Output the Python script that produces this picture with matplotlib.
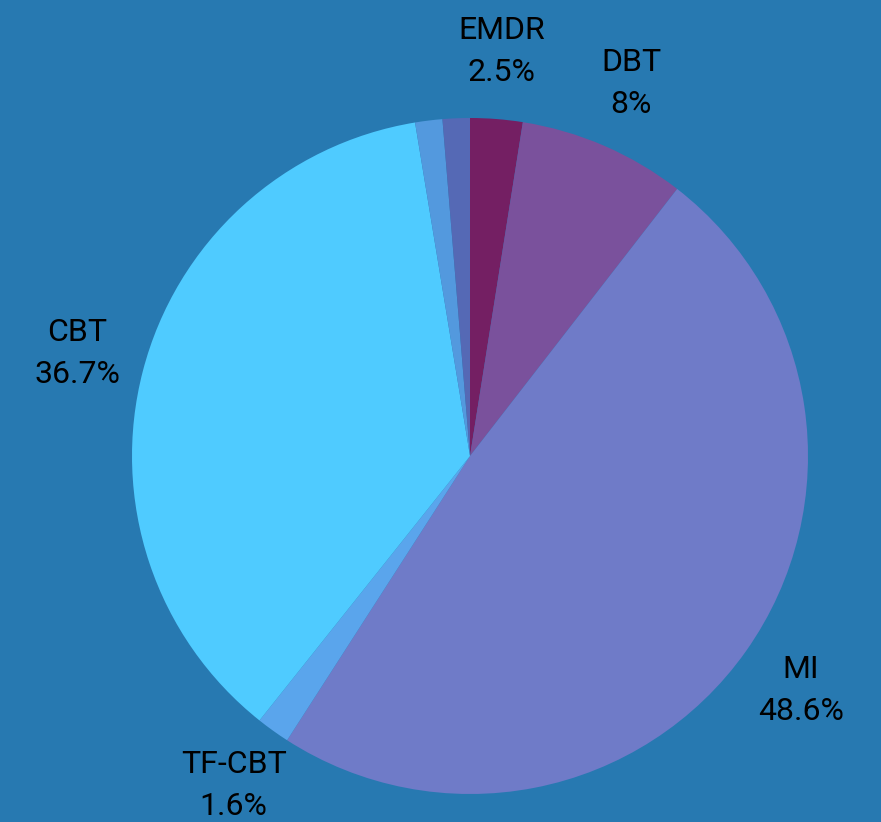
import matplotlib
matplotlib.use("Agg")
import matplotlib.pyplot as plt

# slices clockwise from 12 o'clock
names = ["EMDR", "DBT", "MI", "TF-CBT", "CBT", "", ""]
shares = [2.5, 8, 48.6, 1.6, 36.7, 1.3, 1.3]
colors = ["#741F63", "#7A519C", "#6F7BC8", "#5AA5EC", "#4FCBFF", "#5399DE", "#5569B5"]

plt.rcParams["font.family"] = ["Roboto", "DejaVu Sans"]

fig = plt.figure(figsize=(8.81, 8.22), dpi=100, facecolor="#2779B1")
W, H = 881, 822
cx, cy, r = 470, 456, 338
ax = fig.add_axes([(cx - r) / W, (H - cy - r) / H, 2 * r / W, 2 * r / H])
ax.set_facecolor("#2779B1")

labels = []
for n, v in zip(names, shares):
    labels.append(f"{n}\n{v:g}%" if n else "")

wedges, texts = ax.pie(shares, labels=labels, colors=colors, startangle=90,
                       counterclock=False, labeldistance=1.2,
                       textprops={"fontsize": 23, "color": "black",
                                  "linespacing": 1.57})
for t in texts:
    t.set_ha("center")
    t.set_va("center")

ax.set_xlim(-1, 1)
ax.set_ylim(-1, 1)
ax.set_aspect("equal")

fig.savefig("out.png", dpi=100, facecolor=fig.get_facecolor())
